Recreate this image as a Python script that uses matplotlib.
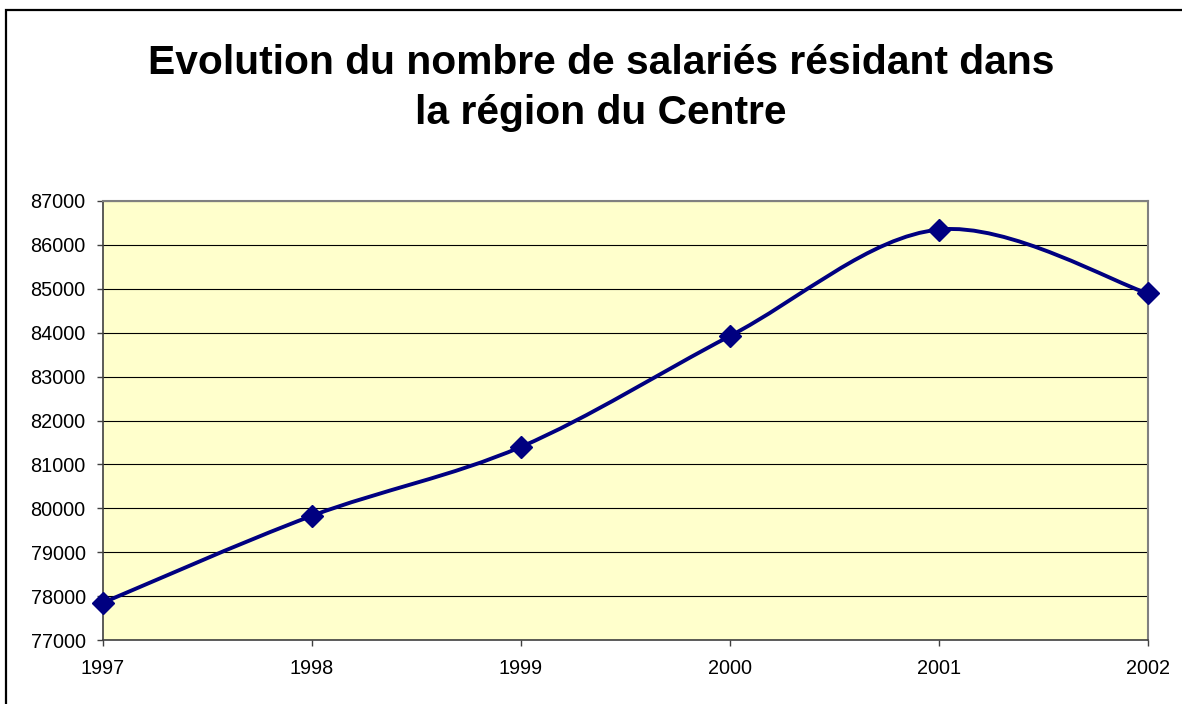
import numpy as np
import matplotlib
matplotlib.use('Agg')
import matplotlib.pyplot as plt
from matplotlib.path import Path
from matplotlib.patches import PathPatch, Rectangle

# ============================================
# Data
# ============================================
years = ['1997', '1998', '1999', '2000', '2001', '2002']
salaries = [77850, 79830, 81400, 83925, 86350, 84895]
y_ticks = list(range(77000, 88000, 1000))

title = "Evolution du nombre de salariés résidant dans\nla région du Centre"

plt.rcParams['font.family'] = ['Liberation Sans', 'DejaVu Sans']

fig = plt.figure(figsize=(11.82, 7.04), dpi=100)
fig.patch.set_facecolor('white')

# outer chart border (only top and left visible in the picture)
fig.add_artist(Rectangle((6 / 1182, -0.2), 1.5, 1 - 10 / 704 + 0.2,
                         transform=fig.transFigure, fill=False,
                         edgecolor='black', linewidth=1.6))

ax = fig.add_axes([103 / 1182, 1 - 640 / 704, 1045 / 1182, 439 / 704])
ax.set_facecolor('#FFFFCC')

x = np.arange(len(years))
y = np.array(salaries, dtype=float)

# smoothed line like Excel (Catmull-Rom as cubic bezier)
pts = np.column_stack([x, y])
ext = np.vstack([pts[0], pts, pts[-1]])
verts = [tuple(pts[0])]
codes = [Path.MOVETO]
for i in range(len(pts) - 1):
    p0, p1, p2, p3 = ext[i], ext[i + 1], ext[i + 2], ext[i + 3]
    c1 = p1 + (p2 - p0) / 6.0
    c2 = p2 - (p3 - p1) / 6.0
    verts += [tuple(c1), tuple(c2), tuple(p2)]
    codes += [Path.CURVE4] * 3
ax.add_patch(PathPatch(Path(verts, codes), fill=False, edgecolor='#000080',
                       linewidth=2.8, zorder=3, capstyle='round', joinstyle='round'))

ax.plot(x, y, linestyle='none', marker='D', markersize=11,
        color='#000080', zorder=4, clip_on=False)

ax.set_xlim(0, len(years) - 1)
ax.set_ylim(77000, 87000)
ax.set_xticks(x)
ax.set_xticklabels(years)
ax.set_yticks(y_ticks)
ax.set_yticklabels([str(v) for v in y_ticks])

ax.yaxis.grid(True, color='black', linewidth=0.8)
ax.set_axisbelow(True)

for side in ['top', 'right']:
    ax.spines[side].set_color('#808080')
    ax.spines[side].set_linewidth(1.5)
for side in ['left', 'bottom']:
    ax.spines[side].set_color('#404040')
    ax.spines[side].set_linewidth(1.2)

ax.tick_params(axis='both', direction='out', length=4.5, width=1,
               color='#404040', labelsize=14.3)
ax.tick_params(axis='y', pad=8)
ax.tick_params(axis='x', pad=9)

fig.text(601 / 1182, 1 - 88 / 704, title, ha='center', va='center',
         fontsize=29.3, fontweight='bold', linespacing=1.42)

plt.savefig('out.png', dpi=100)
